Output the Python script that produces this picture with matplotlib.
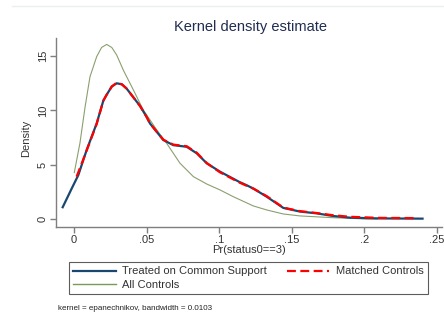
import matplotlib
matplotlib.use("Agg")
import matplotlib.pyplot as plt
from matplotlib.lines import Line2D

plt.rcParams['font.family'] = ['Liberation Sans', 'DejaVu Sans']

# Treated on Common Support
treated_x = [-0.0078, -0.0016, 0.003, 0.0087, 0.0156, 0.0202, 0.0225, 0.026, 0.0294, 0.033, 0.0363,
             0.0386, 0.0455, 0.05, 0.0523, 0.0615, 0.0684, 0.0776, 0.0845, 0.0914, 0.1005, 0.114, 0.119,
             0.1235, 0.1327, 0.1441, 0.1556, 0.167, 0.178, 0.19, 0.21, 0.24]
treated_y = [1.08, 2.8, 4.05, 6.35, 8.8, 10.9, 11.45, 12.2, 12.5, 12.4, 12.0,
             11.6, 10.4, 9.4, 8.8, 7.27, 6.8, 6.65, 6.05, 5.13, 4.36, 3.4, 3.1,
             2.8, 2.05, 1.02, 0.68, 0.52, 0.28, 0.12, 0.05, 0.03]

# Matched Controls
matched_x = [0.0018, 0.0087, 0.0156, 0.0202, 0.0225, 0.026, 0.0294, 0.033, 0.0363,
             0.0386, 0.0455, 0.05, 0.0523, 0.0615, 0.0684, 0.0776, 0.0845, 0.0914, 0.1005, 0.114, 0.119,
             0.1235, 0.1327, 0.1441, 0.1556, 0.167, 0.178, 0.19, 0.21, 0.2355]
matched_y = [3.9, 6.3, 8.75, 10.9, 11.45, 12.2, 12.55, 12.4, 12.0,
             11.6, 10.4, 9.4, 8.8, 7.3, 6.85, 6.7, 6.1, 5.15, 4.3, 3.35, 3.05,
             2.8, 2.1, 1.05, 0.72, 0.55, 0.35, 0.2, 0.1, 0.08]

# All Controls
all_x = [0.0002, 0.0041, 0.0076, 0.011, 0.0156, 0.019, 0.0225, 0.026, 0.0294, 0.034, 0.0409,
         0.0477, 0.057, 0.0638, 0.073, 0.0822, 0.0914, 0.1006, 0.1097, 0.1235, 0.1327, 0.1441,
         0.1556, 0.178, 0.2015, 0.209]
all_y = [4.27, 7.0, 10.3, 13.1, 14.95, 15.8, 16.08, 15.8, 15.1, 13.7, 11.88,
         10.04, 8.2, 6.97, 5.13, 3.9, 3.22, 2.67, 2.05, 1.2, 0.83, 0.46,
         0.28, 0.12, 0.0, 0.0]

xticks = [0, 0.05, 0.1, 0.15, 0.2, 0.25]
xticklabels = ['0', '.05', '.1', '.15', '.2', '.25']
yticks = [0, 5, 10, 15]
yticklabels = ['0', '5', '10', '15']

navy = '#1a476f'
green = '#8a9f70'
red = '#ff0000'
gray = '#7f7f7f'

fig = plt.figure(figsize=(4.44, 3.21), dpi=100)
fig.patch.set_facecolor('white')
fig.add_artist(Line2D([12/444, 1.0], [1-6/321, 1-6/321], color='#eaf0f2', lw=1.0))

ax = fig.add_axes([56/444, 1-227/321, 386/444, 189/321])
ax.plot(all_x, all_y, color=green, lw=0.8, label='All Controls')
ax.plot(treated_x, treated_y, color=navy, lw=1.6, label='Treated on Common Support')
ax.plot(matched_x, matched_y, color=red, lw=1.6, dashes=(4, 2), label='Matched Controls')

ax.set_xlim(-0.0124, 0.2534)
ax.set_ylim(-0.74, 16.67)
ax.set_xticks(xticks)
ax.set_xticklabels(xticklabels)
ax.set_yticks(yticks)
ax.set_yticklabels(yticklabels, rotation=90, va='center')
for s in ['top', 'right']:
    ax.spines[s].set_visible(False)
for s in ['left', 'bottom']:
    ax.spines[s].set_color(gray)
    ax.spines[s].set_linewidth(1.0)
ax.tick_params(axis='both', colors=gray, labelcolor='#333333', labelsize=8, length=4, width=1.0, pad=2)
ax.set_xlabel('Pr(status0==3)', fontsize=8, color='#333333', labelpad=0)
ax.set_ylabel('Density', fontsize=8, color='#333333', labelpad=2)
ax.yaxis.set_label_coords(-0.065, 0.47)

fig.text(250/444, 1-27/321, 'Kernel density estimate', ha='center', va='center',
         fontsize=10.5, color='#1f2d50')

handles = [Line2D([], [], color=navy, lw=1.6),
           Line2D([], [], color='#7a9a5a', lw=1.0),
           Line2D([], [], color=red, lw=1.6, dashes=(4, 2))]
labels = ['Treated on Common Support', 'All Controls', 'Matched Controls']
leg = fig.legend(handles, labels, ncol=2, loc='upper left',
                 bbox_to_anchor=(69/444, 1-262/321), fontsize=8,
                 frameon=True, fancybox=False, edgecolor='#333333',
                 handlelength=3.8, handletextpad=0.6, columnspacing=1.8,
                 labelspacing=0.32, borderpad=0.4, borderaxespad=0)
leg.get_frame().set_linewidth(0.8)
for t in leg.get_texts():
    t.set_color('#333333')

fig.text(58/444, 1-309/321, 'kernel = epanechnikov, bandwidth = 0.0103', ha='left',
         va='center', fontsize=5.8, color='#222222')

fig.savefig('out.png', dpi=100, facecolor='white')
